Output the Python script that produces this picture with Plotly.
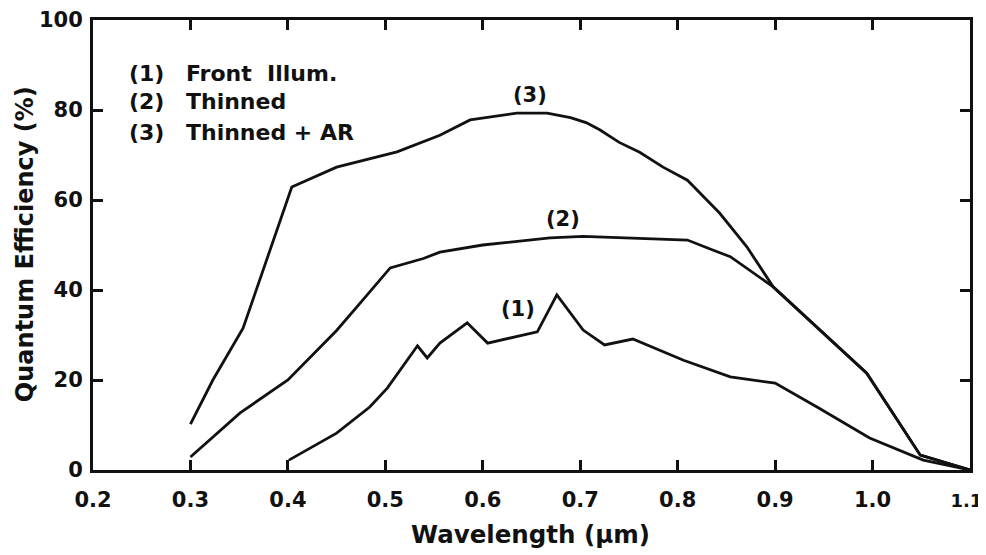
import plotly.graph_objects as go

# Curve (1) Front Illum.
wl_front = [0.401, 0.45, 0.484, 0.502, 0.533, 0.543, 0.556, 0.584, 0.605, 0.656, 0.676,
            0.703, 0.725, 0.754, 0.806, 0.854, 0.90, 0.943, 0.997, 1.052, 1.10]
qe_front = [2.2, 8.2, 14.0, 18.2, 27.6, 24.9, 28.2, 32.7, 28.2, 30.7, 38.9,
            31.1, 27.8, 29.1, 24.4, 20.7, 19.3, 14.0, 7.1, 2.2, 0.0]

# Curve (2) Thinned
wl_thin = [0.30, 0.351, 0.40, 0.45, 0.477, 0.505, 0.539, 0.556, 0.60, 0.669, 0.703,
           0.75, 0.81, 0.836, 0.854, 0.898, 0.994, 1.049, 1.10]
qe_thin = [2.9, 12.7, 20.0, 31.0, 37.8, 44.9, 47.0, 48.4, 50.0, 51.6, 51.9,
           51.6, 51.1, 48.9, 47.4, 40.7, 21.5, 3.3, 0.0]

# Curve (3) Thinned + AR
wl_ar = [0.30, 0.323, 0.354, 0.404, 0.45, 0.512, 0.556, 0.587, 0.635, 0.666, 0.69,
         0.706, 0.72, 0.74, 0.761, 0.785, 0.81, 0.843, 0.871, 0.898, 0.994, 1.049, 1.10]
qe_ar = [10.2, 20.0, 31.5, 62.9, 67.3, 70.7, 74.4, 77.8, 79.3, 79.3, 78.3,
         77.2, 75.6, 72.8, 70.6, 67.3, 64.4, 57.1, 49.6, 40.7, 21.5, 3.3, 0.0]

x_ticks = [0.2, 0.3, 0.4, 0.5, 0.6, 0.7, 0.8, 0.9, 1.0, 1.1]
x_tick_labels = ["0.2", "0.3", "0.4", "0.5", "0.6", "0.7", "0.8", "0.9", "1.0", "1.1"]
y_ticks = [0, 20, 40, 60, 80, 100]

legend_nums = ["(1)", "(2)", "(3)"]
legend_names = ["Front  Illum.", "Thinned", "Thinned + AR"]

FONT = "DejaVu Sans"
BLACK = "#111111"

fig = go.Figure()
for xs, ys in [(wl_front, qe_front), (wl_thin, qe_thin), (wl_ar, qe_ar)]:
    fig.add_trace(go.Scatter(x=xs, y=ys, mode="lines",
                             line=dict(color=BLACK, width=2.8),
                             showlegend=False, hoverinfo="skip"))

axis_common = dict(showgrid=False, zeroline=False, showline=True, linecolor=BLACK,
                   linewidth=3, mirror="ticks", ticks="inside", ticklen=10,
                   tickwidth=3, tickcolor=BLACK, automargin=False,
                   ticklabeloverflow="allow",
                   tickfont=dict(family=FONT, size=21, color=BLACK, weight="bold"))

# the last label is narrower in the original, keep it inside the picture
x_text = x_tick_labels[:-1] + ["<span style='font-size:18px'>" + x_tick_labels[-1]
                                + "</span>\u00a0"]
fig.update_xaxes(range=[0.2, 1.1], tickvals=x_ticks, ticklabelstandoff=9,
                 ticktext=x_text, **axis_common)
fig.update_yaxes(range=[0, 100], tickvals=y_ticks, ticklabelstandoff=3,
                 ticktext=[str(v) for v in y_ticks], **axis_common)

annotations = []
leg_y = [88.2, 81.8, 75.1]
for num, name, yy in zip(legend_nums, legend_names, leg_y):
    annotations.append(dict(x=0.235, y=yy, xref="x", yref="y", text=f"<b>{num}</b>",
                            showarrow=False, xanchor="left", yanchor="middle",
                            font=dict(family=FONT, size=22, color=BLACK)))
    annotations.append(dict(x=0.2935, y=yy, xref="x", yref="y", text=f"<b>{name}</b>",
                            showarrow=False, xanchor="left", yanchor="middle",
                            font=dict(family=FONT, size=22, color=BLACK)))

for txt, xx, yy in [("(3)", 0.648, 83.3), ("(2)", 0.682, 55.8), ("(1)", 0.636, 35.8)]:
    annotations.append(dict(x=xx, y=yy, xref="x", yref="y", text=f"<b>{txt}</b>",
                            showarrow=False, xanchor="center", yanchor="middle",
                            font=dict(family=FONT, size=21, color=BLACK)))

annotations.append(dict(x=0.4994, y=-0.144, xref="paper", yref="paper",
                        text="<b>Wavelength (μm)</b>", showarrow=False,
                        xanchor="center", yanchor="middle",
                        font=dict(family=FONT, size=24.5, color=BLACK)))
annotations.append(dict(x=-0.0775, y=0.502, xref="paper", yref="paper",
                        text="<b>Quantum Efficiency (%)</b>", showarrow=False,
                        textangle=-90, xanchor="center", yanchor="middle",
                        font=dict(family=FONT, size=24, color=BLACK)))

fig.update_layout(width=986, height=555, plot_bgcolor="white", paper_bgcolor="white",
                  margin=dict(l=85, r=24, t=12, b=93), annotations=annotations,
                  font=dict(family=FONT, color=BLACK))

fig.write_html("out.html")
